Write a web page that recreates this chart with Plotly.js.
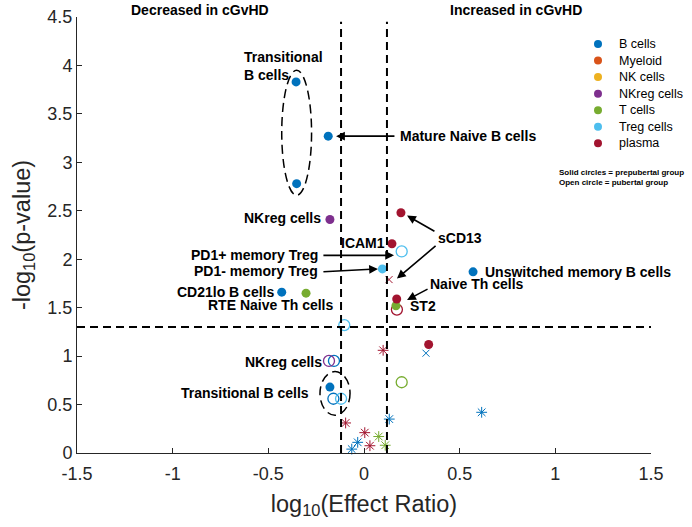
<!DOCTYPE html>
<html>
<head>
<meta charset="utf-8">
<script src="https://cdn.plot.ly/plotly-3.0.1.min.js"></script>
<style>html,body{margin:0;padding:0;background:#fff;}#chart{width:692px;height:527px;}</style>
</head>
<body>
<div id="chart"></div>
<script>
// ---- categories & legend ----
const categories = ['B cells','Myeloid','NK cells','NKreg cells','T cells','Treg cells','plasma'];
const categoryColors = ['#0072BD','#D95319','#EDB120','#7E2F8E','#77AC30','#4DBEEE','#A2142F'];

// ---- solid circles (prepubertal group) ----
const bcellSolidX  = [-0.355, -0.187, -0.352, 0.570, -0.430, -0.178];
const bcellSolidY  = [3.83, 3.27, 2.78, 1.87, 1.66, 0.68];
const nkregSolidX  = [-0.178];
const nkregSolidY  = [2.41];
const tcellSolidX  = [-0.303, 0.167];
const tcellSolidY  = [1.65, 1.52];
const tregSolidX   = [0.096];
const tregSolidY   = [1.90];
const plasmaSolidX = [0.193, 0.146, 0.171, 0.338];
const plasmaSolidY = [2.48, 2.16, 1.59, 1.12];

// ---- open circles (pubertal group) ----
const bcellOpenX  = [-0.157, -0.160];
const bcellOpenY  = [0.95, 0.56];
const nkregOpenX  = [-0.183];
const nkregOpenY  = [0.95];
const tcellOpenX  = [0.197];
const tcellOpenY  = [0.73];
const tregOpenX   = [0.197, -0.103, -0.120];
const tregOpenY   = [2.08, 1.32, 0.56];
const plasmaOpenX = [0.172];
const plasmaOpenY = [1.48];

// ---- asterisks ----
const bcellStarX  = [-0.033, -0.064, 0.132, 0.615];
const bcellStarY  = [0.11, 0.04, 0.35, 0.42];
const tcellStarX  = [0.077, 0.111];
const tcellStarY  = [0.17, 0.08];
const plasmaStarX = [-0.096, 0.004, 0.031, 0.100];
const plasmaStarY = [0.31, 0.21, 0.075, 1.06];

// ---- crosses ----
const bcellCrossX  = [0.324];
const bcellCrossY  = [1.03];
const plasmaCrossX = [0.131];
const plasmaCrossY = [1.79];

// ---- thresholds ----
const effectThresholds = [-0.12, 0.12];
const pThreshold = 1.3;

// ---- ticks ----
const xTickVals = [-1.5, -1, -0.5, 0, 0.5, 1, 1.5];
const xTickText = ['-1.5', '-1', '-0.5', '0', '0.5', '1', '1.5'];
const yTickVals = [0, 0.5, 1, 1.5, 2, 2.5, 3, 3.5, 4, 4.5];
const yTickText = ['0', '0.5', '1', '1.5', '2', '2.5', '3', '3.5', '4', '4.5'];

// ---- annotated labels ----
const labelTexts = ['Transitional<br>B cells', 'Mature Naive B cells', 'NKreg cells', 'ICAM1', 'sCD13',
  'PD1+ memory Treg', 'PD1- memory Treg', 'CD21lo B cells', 'RTE Naive Th cells',
  'Unswitched memory B cells', 'Naive Th cells', 'ST2', 'NKreg cells', 'Transitional B cells'];
const labelX = [-0.639, 0.178, -0.212, -0.005, 0.378, -0.228, -0.228, -0.458, -0.152, 0.622, 0.335, 0.230, -0.208, -0.277];
const labelY = [3.99, 3.27, 2.425, 2.17, 2.22, 2.04, 1.88, 1.66, 1.53, 1.87, 1.74, 1.52, 0.94, 0.62];
const labelAnchor = ['left','left','right','center','left','right','right','right','right','left','left','left','right','right'];

// ---- arrows: tail -> head ----
const arrowTailX = [0.167, -0.220, -0.220, 0.376, 0.382, 0.340];
const arrowTailY = [3.27, 2.04, 1.87, 2.28, 2.15, 1.70];
const arrowHeadX = [-0.146, 0.157, 0.073, 0.225, 0.172, 0.225];
const arrowHeadY = [3.27, 2.04, 1.90, 2.45, 1.80, 1.58];

const FONT = '"Liberation Sans", Arial, Helvetica, sans-serif';
const AX = '#262626';

function colorOf(name){ return categoryColors[categories.indexOf(name)]; }

function solid(name, xs, ys){
  return {x: xs, y: ys, type: 'scatter', mode: 'markers', showlegend: false, hoverinfo: 'skip', cliponaxis: false,
    marker: {symbol: 'circle', size: 9, color: colorOf(name), line: {width: 0}}};
}
function open(name, xs, ys){
  return {x: xs, y: ys, type: 'scatter', mode: 'markers', showlegend: false, hoverinfo: 'skip', cliponaxis: false,
    marker: {symbol: 'circle-open', size: 11, color: colorOf(name), line: {width: 1.3, color: colorOf(name)}}};
}
function star(name, xs, ys){
  return {x: xs, y: ys, type: 'scatter', mode: 'markers', showlegend: false, hoverinfo: 'skip', cliponaxis: false,
    marker: {symbol: 'asterisk-open', size: 9, color: colorOf(name), line: {width: 1, color: colorOf(name)}}};
}
function cross(name, xs, ys){
  return {x: xs, y: ys, type: 'scatter', mode: 'markers', showlegend: false, hoverinfo: 'skip', cliponaxis: false,
    marker: {symbol: 'x-thin-open', size: 7, color: colorOf(name), line: {width: 1, color: colorOf(name)}}};
}

const traces = [
  star('B cells', bcellStarX, bcellStarY),
  star('T cells', tcellStarX, tcellStarY),
  star('plasma', plasmaStarX, plasmaStarY),
  cross('B cells', bcellCrossX, bcellCrossY),
  cross('plasma', plasmaCrossX, plasmaCrossY),
  open('B cells', bcellOpenX, bcellOpenY),
  open('NKreg cells', nkregOpenX, nkregOpenY),
  open('T cells', tcellOpenX, tcellOpenY),
  open('Treg cells', tregOpenX, tregOpenY),
  open('plasma', plasmaOpenX, plasmaOpenY),
  solid('B cells', bcellSolidX, bcellSolidY),
  solid('NKreg cells', nkregSolidX, nkregSolidY),
  solid('T cells', tcellSolidX, tcellSolidY),
  solid('Treg cells', tregSolidX, tregSolidY),
  solid('plasma', plasmaSolidX, plasmaSolidY),
  // custom legend on its own hidden axes
  {x: categories.map(() => 0), y: categories, xaxis: 'x2', yaxis: 'y2', type: 'scatter', mode: 'markers',
   showlegend: false, hoverinfo: 'skip', cliponaxis: false,
   marker: {symbol: 'circle', size: 8, color: categoryColors}}
];

const dash = '8px,5px';
const shapes = [];
effectThresholds.forEach(v => shapes.push({type: 'line', xref: 'x', yref: 'y', x0: v, x1: v, y0: 0, y1: 4.45,
  line: {color: '#000', width: 2, dash: dash}, layer: 'above'}));
shapes.push({type: 'line', xref: 'x', yref: 'y', x0: -1.5, x1: 1.5, y0: pThreshold, y1: pThreshold,
  line: {color: '#000', width: 2, dash: dash}, layer: 'above'});
shapes.push({type: 'circle', xref: 'x', yref: 'y', x0: -0.430, x1: -0.274, y0: 2.66, y1: 3.95,
  line: {color: '#000', width: 1.5, dash: '9px,5px'}, layer: 'above'});
shapes.push({type: 'circle', xref: 'x', yref: 'y', x0: -0.230, x1: -0.073, y0: 0.39, y1: 0.84,
  line: {color: '#000', width: 1.5, dash: '9px,5px'}, layer: 'above'});

const annotations = [];
labelTexts.forEach((t, i) => annotations.push({text: t, x: labelX[i], y: labelY[i], xref: 'x', yref: 'y',
  xanchor: labelAnchor[i], yanchor: 'middle', align: 'left', showarrow: false,
  font: {family: FONT, size: 14, color: '#000', weight: 'bold'}}));
arrowTailX.forEach((tx, i) => annotations.push({text: '', x: arrowHeadX[i], y: arrowHeadY[i], xref: 'x', yref: 'y',
  ax: tx, ay: arrowTailY[i], axref: 'x', ayref: 'y', showarrow: true, arrowhead: 2, arrowsize: 1.1,
  arrowwidth: 1.6, arrowcolor: '#000', standoff: 0, startstandoff: 0}));
annotations.push({text: '<b>Decreased in cGvHD</b>', xref: 'paper', yref: 'paper', x: (200 - 77) / 574, y: (453 - 10) / 436,
  xanchor: 'center', yanchor: 'middle', showarrow: false, font: {family: FONT, size: 14, color: '#000'}});
annotations.push({text: '<b>Increased in cGvHD</b>', xref: 'paper', yref: 'paper', x: (516 - 77) / 574, y: (453 - 10) / 436,
  xanchor: 'center', yanchor: 'middle', showarrow: false, font: {family: FONT, size: 14, color: '#000'}});
annotations.push({text: '<b>Solid circles = prepubertal group</b><br><b>Open circle = pubertal group</b>', xref: 'paper', yref: 'paper',
  x: (557 - 77) / 574, y: (453 - 177) / 436, xanchor: 'left', yanchor: 'middle', align: 'left', showarrow: false,
  font: {family: FONT, size: 8, color: '#000'}});
categories.forEach(c => annotations.push({text: c, x: 0, y: c, xref: 'x2', yref: 'y2', xanchor: 'left', yanchor: 'middle',
  xshift: 19, showarrow: false, font: {family: FONT, size: 12.5, color: '#000'}}));

const layout = {
  width: 692, height: 527,
  margin: {l: 77, r: 41, t: 17, b: 74},
  paper_bgcolor: '#fff', plot_bgcolor: '#fff',
  showlegend: false,
  font: {family: FONT, color: AX},
  xaxis: {range: [-1.5, 1.5], tickvals: xTickVals, ticktext: xTickText, ticks: 'inside', ticklen: 5, tickcolor: AX,
    showline: true, linecolor: AX, linewidth: 1, zeroline: false, showgrid: false, fixedrange: true,
    tickfont: {size: 18, color: AX}, ticklabelstandoff: 4,
    title: {text: 'log<sub>10</sub>(Effect Ratio)', font: {size: 23.5, color: AX}, standoff: 12}},
  yaxis: {range: [0, 4.5], tickvals: yTickVals, ticktext: yTickText, ticks: 'inside', ticklen: 5, tickcolor: AX,
    showline: true, linecolor: AX, linewidth: 1, zeroline: false, showgrid: false, fixedrange: true,
    tickfont: {size: 18, color: AX}, ticklabelstandoff: 0,
    title: {text: '-log<sub>10</sub>(p-value)', font: {size: 23.5, color: AX}, standoff: 10}},
  xaxis2: {domain: [(590 - 77) / 574, 1], range: [-8, 53], visible: false, anchor: 'y2', fixedrange: true},
  yaxis2: {domain: [(453 - 151.6) / 436, (453 - 35.7) / 436], type: 'category', categoryorder: 'array', categoryarray: categories,
    range: [6.5, -0.5], visible: false, anchor: 'x2', fixedrange: true},
  shapes: shapes,
  annotations: annotations
};

Plotly.newPlot('chart', traces, layout, {displayModeBar: false, staticPlot: true});
</script>
</body>
</html>
